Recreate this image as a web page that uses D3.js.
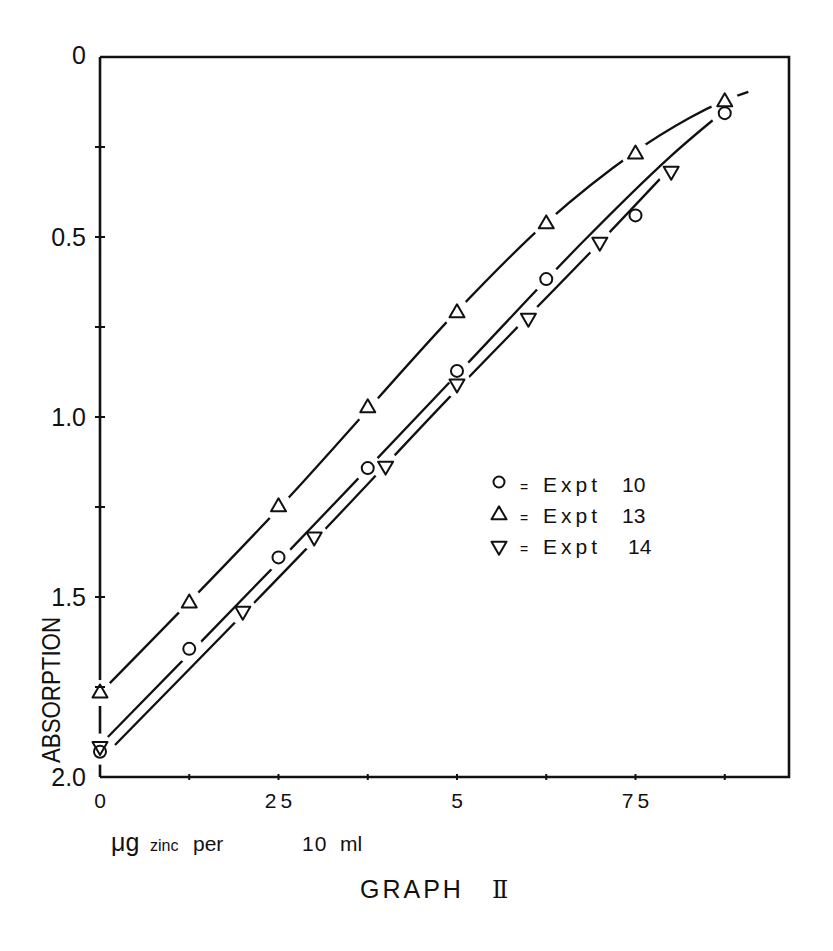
<!DOCTYPE html>
<html>
<head>
<meta charset="utf-8">
<script src="https://cdn.jsdelivr.net/npm/d3@7"></script>
<style>
  body { margin: 0; background: #fff; }
</style>
</head>
<body>
<div id="chart"></div>
<script>
// Graph II: absorption against µg zinc per 10 ml, three runs.
// Y axis runs downward (0 at the top), as on the original sheet.

const conc10 = [0, 0.125, 0.25, 0.375, 0.5, 0.625, 0.75, 0.875];
const abs10  = [1.93, 1.644, 1.39, 1.142, 0.872, 0.617, 0.44, 0.156];

const conc13 = [0, 0.125, 0.25, 0.375, 0.5, 0.625, 0.75, 0.875];
const abs13  = [1.767, 1.517, 1.25, 0.975, 0.711, 0.464, 0.27, 0.125];

const conc14 = [0, 0.2, 0.3, 0.4, 0.5, 0.6, 0.7, 0.8];
const abs14  = [1.915, 1.539, 1.333, 1.136, 0.908, 0.725, 0.514, 0.317];

// hand-drawn fitted curves, nodes [conc, absorption]
const fit10 = [[0.011, 1.889], [0.242, 1.419], [0.490, 0.903], [0.676, 0.514], [0.798, 0.278], [0.874, 0.150]];
const fit13 = [[0.0, 1.767], [0.255, 1.244], [0.5, 0.706], [0.626, 0.458], [0.749, 0.264], [0.826, 0.169], [0.874, 0.122], [0.908, 0.097]];
const fit14 = [[0.021, 1.911], [0.294, 1.356], [0.490, 0.944], [0.690, 0.536], [0.787, 0.333]];

const xTickValues = [0.125, 0.25, 0.375, 0.5, 0.625, 0.75, 0.875];
const xLabelValues = [0, 0.25, 0.5, 0.75];
const xLabelText   = ["0", "25", "5", "75"];
const yTickValues  = [0.25, 0.5, 0.75, 1, 1.25, 1.5, 1.75];
const yLabelValues = [0, 0.5, 1, 1.5, 2];
const yLabelText   = ["0", "0.5", "1.0", "1.5", "2.0"];

const legendNames = ["Expt", "Expt", "Expt"];
const legendNums  = ["10", "13", "14"];

const W = 833, H = 951;
const FONT = "'Liberation Sans', Arial, sans-serif";

const svg = d3.select("#chart").append("svg")
  .attr("width", W).attr("height", H)
  .style("font-family", FONT);

const x = d3.scaleLinear().domain([0, 0.965]).range([100, 789]);
const y = d3.scaleLinear().domain([0, 2]).range([57, 777]);

// ---- marker shapes ----
const TRI = 15; // triangle side
function triPath(up) {
  const h = TRI / Math.sqrt(3), b = TRI / (2 * Math.sqrt(3));
  const s = up ? 1 : -1;
  return `M0,${-h * s}L${TRI / 2},${b * s}L${-TRI / 2},${b * s}Z`;
}

const series = [
  { conc: conc10, abs: abs10, fit: fit10, shape: "circle" },
  { conc: conc13, abs: abs13, fit: fit13, shape: "up" },
  { conc: conc14, abs: abs14, fit: fit14, shape: "down" }
];

// ---- masks: each curve is broken where its own markers sit ----
const defs = svg.append("defs");
series.forEach((s, i) => {
  const m = defs.append("mask").attr("id", "gap" + i).attr("maskUnits", "userSpaceOnUse")
    .attr("x", 0).attr("y", 0).attr("width", W).attr("height", H);
  m.append("rect").attr("width", W).attr("height", H).attr("fill", "#fff");
  s.conc.forEach((c, j) => {
    m.append("circle").attr("cx", x(c)).attr("cy", y(s.abs[j])).attr("r", 14).attr("fill", "#000");
  });
});
// the y axis is broken by the markers sitting on it
const axMask = defs.append("mask").attr("id", "gapAxis").attr("maskUnits", "userSpaceOnUse")
  .attr("x", 0).attr("y", 0).attr("width", W).attr("height", H);
axMask.append("rect").attr("width", W).attr("height", H).attr("fill", "#fff");
series.forEach(s => {
  s.conc.forEach((c, j) => {
    if (c === 0) axMask.append("circle").attr("cx", x(c)).attr("cy", y(s.abs[j])).attr("r", 13).attr("fill", "#000");
  });
});

// ---- curves ----
const line = d3.line()
  .x(d => x(d[0])).y(d => y(d[1]))
  .curve(d3.curveCatmullRom.alpha(0.5));

series.forEach((s, i) => {
  svg.append("path")
    .attr("d", line(s.fit))
    .attr("fill", "none")
    .attr("stroke", "#111")
    .attr("stroke-width", 2.3)
    .attr("mask", `url(#gap${i})`);
});

// ---- frame ----
svg.append("line")
  .attr("x1", x(0)).attr("x2", x(0)).attr("y1", y(0)).attr("y2", y(2))
  .attr("stroke", "#111").attr("stroke-width", 2.6)
  .attr("mask", "url(#gapAxis)");
svg.append("path")
  .attr("d", `M${x(0)},${y(0)}H${x(0.965)}V${y(2)}H${x(0)}`)
  .attr("fill", "none").attr("stroke", "#111").attr("stroke-width", 2.6);

// tick marks cross the axis lines
svg.append("g").selectAll("line").data(yTickValues).join("line")
  .attr("x1", x(0) - 5).attr("x2", x(0) + 5)
  .attr("y1", d => y(d)).attr("y2", d => y(d))
  .attr("stroke", "#111").attr("stroke-width", 2);
svg.append("g").selectAll("line").data(xTickValues).join("line")
  .attr("x1", d => x(d)).attr("x2", d => x(d))
  .attr("y1", y(2) - 3).attr("y2", y(2) + 3)
  .attr("stroke", "#111").attr("stroke-width", 2);

// ---- tick labels ----
svg.append("g").selectAll("text").data(yLabelValues).join("text")
  .attr("x", 86)
  .attr("y", (d, i) => y(d) + (i === 0 ? 7 : 9))
  .attr("text-anchor", "end")
  .attr("font-size", 25)
  .attr("fill", "#111")
  .text((d, i) => yLabelText[i]);

svg.append("g").selectAll("text").data(xLabelValues).join("text")
  .attr("x", d => x(d) + (d === 0 ? 2 : 2))
  .attr("y", 808)
  .attr("text-anchor", "middle")
  .attr("font-size", 21)
  .attr("letter-spacing", 4)
  .attr("fill", "#111")
  .text((d, i) => xLabelText[i]);

// ---- markers ----
series.forEach(s => {
  const pts = s.conc.map((c, j) => [x(c), y(s.abs[j])]);
  if (s.shape === "circle") {
    svg.append("g").selectAll("circle").data(pts).join("circle")
      .attr("cx", d => d[0]).attr("cy", d => d[1]).attr("r", 6)
      .attr("fill", "none").attr("stroke", "#111").attr("stroke-width", 2);
  } else {
    svg.append("g").selectAll("path").data(pts).join("path")
      .attr("transform", d => `translate(${d[0]},${d[1]})`)
      .attr("d", triPath(s.shape === "up"))
      .attr("fill", "none").attr("stroke", "#111").attr("stroke-width", 2)
      .attr("stroke-linejoin", "round");
  }
});

// ---- legend ----
const legY = [484, 515, 546];
const lg = svg.append("g").attr("fill", "#111");
legY.forEach((ly, i) => {
  if (i === 0) {
    lg.append("circle").attr("cx", 499).attr("cy", ly - 2).attr("r", 5.5)
      .attr("fill", "none").attr("stroke", "#111").attr("stroke-width", 2);
  } else {
    lg.append("path").attr("transform", `translate(499,${ly})`)
      .attr("d", triPath(i === 1))
      .attr("fill", "none").attr("stroke", "#111").attr("stroke-width", 2)
      .attr("stroke-linejoin", "round");
  }
  const t = lg.append("text").attr("y", ly + 8).attr("font-size", 21);
  t.append("tspan").attr("x", 520).attr("font-size", 14).text("=");
  t.append("tspan").attr("x", 543).attr("letter-spacing", 4).text(legendNames[i]);
  t.append("tspan").attr("x", i === 2 ? 628 : 622).text(legendNums[i]);
});

// ---- axis titles ----
svg.append("text")
  .attr("transform", "translate(60,690) rotate(-90)")
  .attr("text-anchor", "middle")
  .attr("font-size", 26)
  .attr("textLength", 146)
  .attr("lengthAdjust", "spacingAndGlyphs")
  .attr("fill", "#111")
  .text("ABSORPTION");

const xt = svg.append("text").attr("y", 851).attr("fill", "#111");
xt.append("tspan").attr("x", 111).attr("font-size", 25).text("μg");
xt.append("tspan").attr("x", 150).attr("font-size", 16).text("zinc");
xt.append("tspan").attr("x", 193).attr("font-size", 21).text("per");
xt.append("tspan").attr("x", 302).attr("font-size", 21).attr("letter-spacing", 1).text("10");
xt.append("tspan").attr("x", 340).attr("font-size", 21).text("ml");

const gt = svg.append("text").attr("y", 898).attr("fill", "#111").attr("font-size", 25);
gt.append("tspan").attr("x", 360).attr("letter-spacing", 3).text("GRAPH");
gt.append("tspan").attr("x", 492).attr("font-family", "'DejaVu Serif', serif").attr("font-size", 24).text("Ⅱ");
</script>
</body>
</html>
